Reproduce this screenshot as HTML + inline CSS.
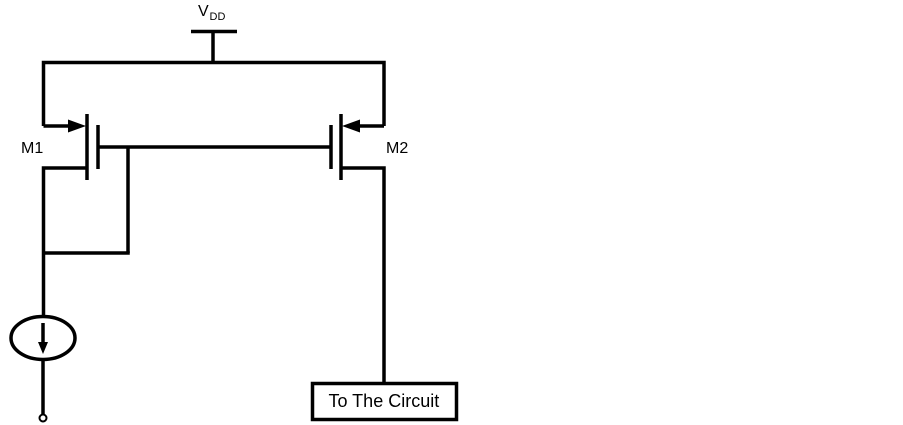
<!DOCTYPE html>
<html>
<head>
<meta charset="utf-8">
<style>
  html, body { margin:0; padding:0; background:#fff; }
  svg { display:block; }
  text { font-family: "Liberation Sans", Arial, sans-serif; fill:#000; }
</style>
</head>
<body>
<svg width="903" height="425" viewBox="0 0 903 425" xmlns="http://www.w3.org/2000/svg">
  <rect x="0" y="0" width="903" height="425" fill="#fff"/>
  <g stroke="#000" stroke-width="3.5" fill="none" stroke-linecap="butt">
    <!-- VDD -->
    <line x1="191" y1="31.5" x2="237" y2="31.5"/>
    <line x1="213" y1="31" x2="213" y2="62.5"/>
    <!-- Top rail -->
    <path d="M43.5,126 L43.5,62.5 L384,62.5 L384,126"/>
    <!-- M1 -->
    <line x1="43.5" y1="126" x2="72" y2="126"/>
    <line x1="87" y1="114" x2="87" y2="180"/>
    <line x1="98" y1="125" x2="98" y2="169"/>
    <line x1="98" y1="147" x2="331" y2="147"/>
    <line x1="128" y1="147" x2="128" y2="253"/>
    <line x1="43.5" y1="253" x2="129.75" y2="253"/>
    <path d="M87,168 L43.5,168 L43.5,316"/>
    <!-- current source -->
    <ellipse cx="43" cy="338" rx="32" ry="21.5"/>
    <line x1="43" y1="323" x2="43" y2="344"/>
    <line x1="43" y1="360" x2="43" y2="414"/>
    <circle cx="43" cy="418" r="3.5" fill="#fff" stroke-width="2"/>
    <!-- M2 -->
    <line x1="341" y1="114" x2="341" y2="180"/>
    <line x1="331" y1="125" x2="331" y2="169"/>
    <line x1="384" y1="126" x2="356" y2="126"/>
    <path d="M341,168 L384,168 L384,382"/>
    <!-- box -->
    <rect x="312.5" y="383.5" width="144" height="36"/>
  </g>
  <g fill="#000" stroke="none">
    <polygon points="68,119.5 86,126 68,132.5"/>
    <polygon points="360,119.5 342,126 360,132.5"/>
    <polygon points="38,342 48,342 43,354"/>
  </g>
  <text x="198" y="16" font-size="16">V</text>
  <text x="209.5" y="20" font-size="11">DD</text>
  <text x="21" y="153" font-size="16">M1</text>
  <text x="386" y="153" font-size="16">M2</text>
  <text x="328.5" y="407" font-size="18">To The Circuit</text>
</svg>
</body>
</html>
